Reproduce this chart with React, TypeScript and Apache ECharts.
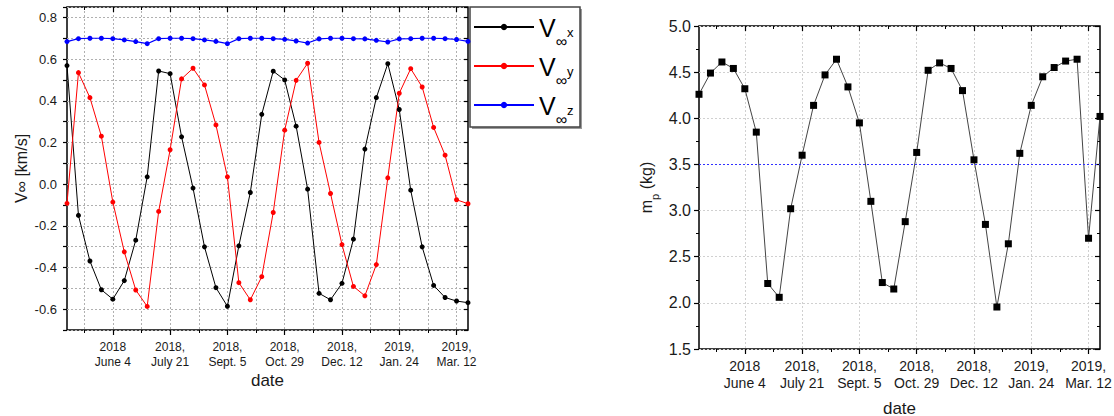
import React, { useEffect, useRef } from "react";
import * as echarts from "echarts";

// ---------- data ----------
const pointCount = 36;
const pointIndex = Array.from({ length: pointCount }, (_, i) => String(i));
const halfIndex = Array.from({ length: pointCount * 2 - 1 }, (_, i) => String(i / 2));

const tickLabels = [
  "2018\nJune 4",
  "2018,\nJuly 21",
  "2018,\nSept. 5",
  "2018,\nOct. 29",
  "2018,\nDec. 12",
  "2019,\nJan. 24",
  "2019,\nMar. 12",
];
const firstTick = 4;
const tickStep = 5;

const seriesNames = ["V∞x", "V∞y", "V∞z"];
const vInfX = [0.569, -0.15, -0.369, -0.507, -0.552, -0.463, -0.269, 0.035, 0.543, 0.53, 0.227, -0.019, -0.301, -0.497, -0.586, -0.296, -0.04, 0.335, 0.542, 0.5, 0.278, -0.024, -0.524, -0.555, -0.476, -0.264, 0.168, 0.415, 0.578, 0.358, -0.029, -0.301, -0.486, -0.544, -0.561, -0.569];
const vInfY = [-0.092, 0.535, 0.415, 0.23, -0.086, -0.325, -0.508, -0.587, -0.131, 0.165, 0.505, 0.556, 0.476, 0.284, 0.035, -0.473, -0.555, -0.444, -0.136, 0.259, 0.498, 0.58, 0.2, -0.045, -0.29, -0.491, -0.536, -0.386, 0.03, 0.436, 0.554, 0.466, 0.272, 0.139, -0.075, -0.094];
const vInfZ = [0.684, 0.698, 0.7, 0.7, 0.698, 0.692, 0.684, 0.674, 0.698, 0.7, 0.7, 0.698, 0.692, 0.685, 0.674, 0.698, 0.7, 0.7, 0.698, 0.695, 0.687, 0.677, 0.697, 0.7, 0.7, 0.698, 0.697, 0.69, 0.682, 0.697, 0.698, 0.7, 0.7, 0.698, 0.694, 0.685];
const mp = [4.26, 4.49, 4.61, 4.54, 4.32, 3.85, 2.21, 2.06, 3.02, 3.6, 4.14, 4.47, 4.64, 4.34, 3.95, 3.1, 2.22, 2.15, 2.88, 3.63, 4.52, 4.6, 4.54, 4.3, 3.55, 2.85, 1.955, 2.64, 3.62, 4.14, 4.45, 4.55, 4.62, 4.64, 2.7, 4.02];
const mpLimit = 3.5;

// ---------- helpers ----------
const FONT = "'Liberation Sans', Arial, Helvetica, sans-serif";
const isMajor = (i: number) => i >= firstTick && (i - firstTick) % tickStep === 0;
const isMinorHalf = (i: number) =>
  (((i - (2 * firstTick - tickStep)) % (2 * tickStep)) + 2 * tickStep) % (2 * tickStep) === 0;
const labelFor = (i: number) =>
  isMajor(i) ? tickLabels[(i - firstTick) / tickStep] ?? "" : "";

function xAxesFor(grid: number, o: { fontSize: number; lineHeight: number; margin: number; minorGrid: boolean; gridColor: string; name: string; nameGap: number }) {
  const split = { color: o.gridColor, type: [2, 2], width: 1 };
  return [
    {
      type: "category", gridIndex: grid, position: "bottom", data: pointIndex, boundaryGap: false,
      axisLine: { show: false, onZero: false },
      axisTick: { show: true, interval: (i: number) => isMajor(i), length: 5, lineStyle: { color: "#000", width: 1.2 } },
      axisLabel: {
        interval: (i: number) => isMajor(i),
        formatter: (_v: string, i: number) => labelFor(i),
        fontSize: o.fontSize, lineHeight: o.lineHeight, color: "#1a1a1a", margin: o.margin, fontFamily: FONT,
      },
      splitLine: { show: true, interval: (i: number) => isMajor(i), lineStyle: split },
      name: o.name, nameLocation: "middle", nameGap: o.nameGap, nameMoveOverlap: false,
      nameTextStyle: { fontSize: 17, color: "#1a1a1a", fontFamily: FONT },
    },
    {
      type: "category", gridIndex: grid, position: "bottom", data: halfIndex, boundaryGap: false,
      axisLine: { show: false, onZero: false },
      axisTick: { show: true, interval: (i: number) => isMinorHalf(i), length: 3, lineStyle: { color: "#000", width: 1 } },
      axisLabel: { show: false },
      splitLine: { show: o.minorGrid, interval: (i: number) => isMinorHalf(i), lineStyle: split },
    },
    {
      type: "category", gridIndex: grid, position: "top", data: pointIndex, boundaryGap: false,
      axisLine: { show: false, onZero: false },
      axisTick: { show: true, inside: true, interval: (i: number) => isMajor(i), length: 5, lineStyle: { color: "#000", width: 1.2 } },
      axisLabel: { show: false },
      splitLine: { show: false },
    },
    {
      type: "category", gridIndex: grid, position: "top", data: halfIndex, boundaryGap: false,
      axisLine: { show: false, onZero: false },
      axisTick: { show: true, inside: true, interval: (i: number) => isMinorHalf(i), length: 3, lineStyle: { color: "#000", width: 1 } },
      axisLabel: { show: false },
      splitLine: { show: false },
    },
  ];
}

const legendRich = {
  v: { fontSize: 25, lineHeight: 30, padding: [3.5, 0, 0, 0], verticalAlign: "top", color: "#000", fontFamily: FONT },
  i: { fontSize: 16, lineHeight: 16, padding: [21, 0, 0, 0], verticalAlign: "top", color: "#000", fontFamily: FONT },
  s: { fontSize: 13, lineHeight: 13, padding: [14, 0, 0, 0], verticalAlign: "top", color: "#000", fontFamily: FONT },
};
const legendTops = [12, 51, 90];

export default function App() {
  const ref = useRef<HTMLDivElement>(null);
  useEffect(() => {
    if (!ref.current) return;
    const chart = echarts.init(ref.current, undefined, { renderer: "svg" });
    const fmtTenth = (v: number) => {
      if (Math.abs(v * 5 - Math.round(v * 5)) > 1e-6) return "";
      if (v > 0.81) return "";
      return Math.abs(v) < 1e-9 ? "0.0" : v.toFixed(1);
    };
    const option: any = {
      animation: false,
      textStyle: { fontFamily: FONT },
      grid: [
        { left: 67, right: 1114 - 468, top: 7, bottom: 416 - 330, show: true, borderColor: "#000", borderWidth: 1.5, backgroundColor: "transparent", containLabel: false, outerBoundsMode: "none" },
        { left: 699, right: 1114 - 1100, top: 26, bottom: 416 - 349, show: true, borderColor: "#000", borderWidth: 1.5, backgroundColor: "transparent", containLabel: false, outerBoundsMode: "none" },
      ],
      xAxis: [
        ...xAxesFor(0, { fontSize: 12, lineHeight: 15.5, margin: 9, minorGrid: true, gridColor: "#b0b0b0", name: "date", nameGap: 41.5 }),
        ...xAxesFor(1, { fontSize: 14, lineHeight: 16.5, margin: 9, minorGrid: false, gridColor: "#d0d0d0", name: "date", nameGap: 50.5 }),
      ],
      yAxis: [
        {
          type: "value", gridIndex: 0, position: "left", min: -0.7, max: 0.85, interval: 0.1,
          axisLine: { show: false, onZero: false },
          axisTick: { show: true, length: 4, lineStyle: { color: "#000", width: 1.2 } },
          axisLabel: { formatter: fmtTenth, fontSize: 13, color: "#1a1a1a", margin: 10, fontFamily: FONT },
          splitLine: { show: true, lineStyle: { color: "#b0b0b0", type: [2, 2], width: 1 } },
          name: "V∞ [km/s]", nameLocation: "middle", nameGap: 38, nameMoveOverlap: false,
          nameTextStyle: { fontSize: 16, color: "#1a1a1a", fontFamily: FONT },
        },
        {
          type: "value", gridIndex: 0, position: "right", min: -0.7, max: 0.85, interval: 0.1,
          axisLine: { show: false, onZero: false },
          axisTick: { show: true, inside: true, length: 4, lineStyle: { color: "#000", width: 1.2 } },
          axisLabel: { show: false },
          splitLine: { show: false },
        },
        {
          type: "value", gridIndex: 1, position: "left", min: 1.5, max: 5.0, interval: 0.5,
          axisLine: { show: false, onZero: false },
          axisTick: { show: true, length: 5, lineStyle: { color: "#000", width: 1.2 } },
          minorTick: { show: true, splitNumber: 2, length: 3, lineStyle: { color: "#000", width: 1 } },
          axisLabel: { formatter: (v: number) => v.toFixed(1), fontSize: 16, color: "#1a1a1a", margin: 8, fontFamily: FONT },
          splitLine: { show: true, lineStyle: { color: "#d0d0d0", type: [2, 2], width: 1 } },
          name: "{a|m}{b|p}{a| (kg)}", nameLocation: "middle", nameGap: 41, nameMoveOverlap: false,
          nameTextStyle: {
            fontSize: 16, color: "#1a1a1a", fontFamily: FONT,
            rich: {
              a: { fontSize: 16, color: "#1a1a1a", fontFamily: FONT, lineHeight: 20, verticalAlign: "top", padding: [0, 0, 0, 0] },
              b: { fontSize: 11, color: "#1a1a1a", fontFamily: FONT, lineHeight: 11, verticalAlign: "top", padding: [11, 0, 0, 0] },
            },
          },
        },
        {
          type: "value", gridIndex: 1, position: "right", min: 1.5, max: 5.0, interval: 0.5,
          axisLine: { show: false, onZero: false },
          axisTick: { show: true, inside: true, length: 5, lineStyle: { color: "#000", width: 1.2 } },
          minorTick: { show: true, splitNumber: 2, length: 3, lineStyle: { color: "#000", width: 1 } },
          axisLabel: { show: false },
          splitLine: { show: false },
        },
      ],
      legend: seriesNames.map((name, k) => ({
        data: [name],
        orient: "vertical", left: 473, top: legendTops[k], padding: 0,
        itemWidth: 60, itemHeight: 8, itemTextGap: 8, z: 10,
        formatter: (n: string) => `{v|V}{i|∞}{s|${n.slice(2)}}`,
        textStyle: { color: "#000", fontFamily: FONT, rich: legendRich },
      })),
      graphic: [
        { type: "rect", z: 1, shape: { x: 472, y: 9, width: 110, height: 120 }, style: { fill: "#9a9a9a" } },
        { type: "rect", z: 2, shape: { x: 470, y: 7, width: 110, height: 120 }, style: { fill: "#fff", stroke: "#444", lineWidth: 1.5 } },
      ],
      series: [
        {
          name: seriesNames[0], type: "line", xAxisIndex: 0, yAxisIndex: 0, data: vInfX,
          symbol: "circle", symbolSize: 5, itemStyle: { color: "#000" }, lineStyle: { color: "#000", width: 1 },
        },
        {
          name: seriesNames[1], type: "line", xAxisIndex: 0, yAxisIndex: 0, data: vInfY,
          symbol: "circle", symbolSize: 5, itemStyle: { color: "#ff0000" }, lineStyle: { color: "#ff0000", width: 1 },
        },
        {
          name: seriesNames[2], type: "line", xAxisIndex: 0, yAxisIndex: 0, data: vInfZ,
          symbol: "circle", symbolSize: 5, itemStyle: { color: "#0000ff" }, lineStyle: { color: "#0000ff", width: 1.2 },
        },
        {
          name: "mp", type: "line", xAxisIndex: 4, yAxisIndex: 2, data: mp,
          symbol: "rect", symbolSize: 7, itemStyle: { color: "#000" }, lineStyle: { color: "#444", width: 1 },
          markLine: {
            silent: true, symbol: "none", label: { show: false },
            lineStyle: { color: "#3030ff", type: [2, 2], width: 1 },
            data: [{ yAxis: mpLimit }],
          },
        },
      ],
    };
    chart.setOption(option);
    return () => chart.dispose();
  }, []);
  return (
    <div
      ref={ref}
      style={{ position: "fixed", left: 0, top: 0, width: 1114, height: 416, background: "#fff" }}
    />
  );
}
